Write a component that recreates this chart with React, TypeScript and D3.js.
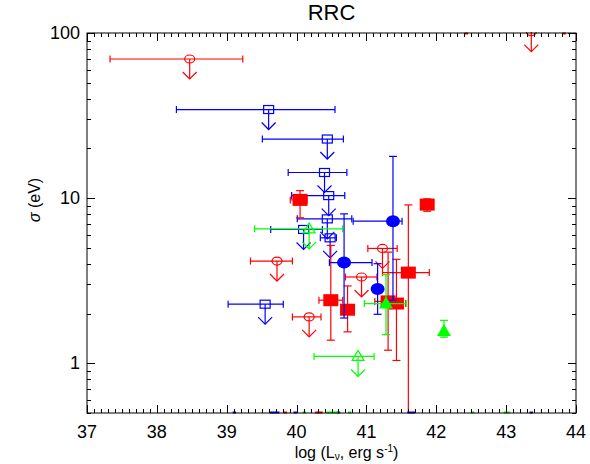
import React from "react";
import * as d3 from "d3";

// ---------- data ----------
// Red upper limits (open circles): [logL, xlo, xhi, sigma]
const redUL: number[][] = [
  [38.47, 37.33, 39.23, 69.6],
  [43.36, 43.36, 43.36, 102],
  [39.72, 39.34, 39.94, 4.16],
  [40.18, 39.94, 40.35, 1.91],
  [40.93, 40.7, 41.15, 3.33],
  [41.23, 41.02, 41.44, 4.96],
];
// Blue upper limits (open squares)
const blueUL: number[][] = [
  [39.6, 38.28, 40.55, 34.4],
  [40.44, 39.51, 40.67, 22.8],
  [40.4, 39.88, 40.72, 14.3],
  [40.46, 39.93, 40.69, 10.36],
  [40.44, 40.01, 40.79, 7.49],
  [40.1, 39.63, 40.37, 6.46],
  [40.48, 40.34, 40.57, 5.75],
  [39.55, 39.02, 39.81, 2.28],
];
// Green upper limits (open triangles)
const greenUL: number[][] = [
  [40.18, 39.4, 40.66, 6.52],
  [40.88, 40.25, 41.11, 1.1],
];
// Red detections (filled squares): [logL, xlo, xhi, sigma, slo, shi]
const redDet: number[][] = [
  [40.05, 39.91, 40.15, 9.76, 7.6, 11.1],
  [40.49, 40.32, 40.66, 2.41, 1.38, 5.17],
  [40.73, 40.73, 40.73, 2.11, 1.55, 2.94],
  [41.31, 41.12, 41.48, 2.37, 1.2, 4.71],
  [41.43, 41.27, 41.56, 2.3, 1.04, 4.26],
  [41.6, 41.23, 41.9, 3.54, 0.3, 9.1],
  [41.87, 41.87, 41.87, 9.14, 8.33, 9.9],
];
// Blue detections (filled circles)
const blueDet: number[][] = [
  [41.38, 40.81, 41.51, 7.25, 2.41, 17.9],
  [40.68, 40.47, 41.08, 4.07, 1.88, 8.03],
  [41.16, 41.12, 41.22, 2.82, 1.98, 4.01],
];
// Green detections (filled triangles)
const greenDet: number[][] = [
  [41.28, 40.97, 41.57, 2.3, 1.49, 3.44],
  [42.11, 42.11, 42.11, 1.57, 1.44, 1.82],
];
// Points lying off the bottom / top of the sigma range: [xlo, xhi]
const blueBelow: number[][] = [[39.1, 39.12], [39.63, 39.74], [39.97, 39.99], [40.59, 40.61], [41.6, 41.68], [43.35, 43.37]];
const redBelow: number[][] = [[39.83, 39.85], [40.28, 40.36]];
const greenBelow: number[][] = [[40.1, 40.12], [40.44, 40.6], [40.75, 40.77], [42.51, 42.53], [42.98, 43.04]];
const redAbove: number[][] = [[42.42, 42.44], [43.82, 43.84]];

const xTicks = [37, 38, 39, 40, 41, 42, 43, 44];
const yTicks = [1, 10, 100];
const yMinor = [0.5, 0.6, 0.7, 0.8, 0.9, 2, 3, 4, 5, 6, 7, 8, 9, 20, 30, 40, 50, 60, 70, 80, 90];

const RED = "#ff0000";
const BLUE = "#0000ff";
const GREEN = "#00ff00";

const W = 590, H = 464;
const L = 87, R = 576, T = 33, B = 413;
const FONT = "'Liberation Sans', Arial, Helvetica, sans-serif";

export default function App() {
  const x = d3.scaleLinear().domain([37, 44]).range([L, R]);
  const y = d3.scaleLog().domain([0.5, 100]).range([B, T]);
  const xMinor = d3.range(370, 441).map((v) => v / 10);
  const sw = 1.2;

  const xErr = (d: number[], c: string, k: string) => {
    if (d[1] === d[2]) return null;
    const yy = y(d[3]);
    return (
      <g key={k} stroke={c} strokeWidth={sw}>
        <line x1={x(d[1])} x2={x(d[2])} y1={yy} y2={yy} />
        <line x1={x(d[1])} x2={x(d[1])} y1={yy - 3.5} y2={yy + 3.5} />
        <line x1={x(d[2])} x2={x(d[2])} y1={yy - 3.5} y2={yy + 3.5} />
      </g>
    );
  };
  const yErr = (d: number[], c: string, k: string) => {
    const xx = x(d[0]);
    return (
      <g key={k} stroke={c} strokeWidth={sw}>
        <line x1={xx} x2={xx} y1={y(d[4])} y2={y(d[5])} />
        <line x1={xx - 4} x2={xx + 4} y1={y(d[4])} y2={y(d[4])} />
        <line x1={xx - 4} x2={xx + 4} y1={y(d[5])} y2={y(d[5])} />
      </g>
    );
  };
  const arrow = (d: number[], c: string, k: string) => {
    const xx = x(d[0]);
    const yy = y(d[3]);
    return (
      <g key={k} stroke={c} strokeWidth={sw} fill="none">
        <line x1={xx} x2={xx} y1={yy} y2={yy + 20} />
        <polyline points={`${xx - 7},${yy + 13} ${xx},${yy + 20} ${xx + 7},${yy + 13}`} />
      </g>
    );
  };

  return (
    <svg width={W} height={H} style={{ position: "absolute", left: 0, top: 0, background: "#fff" }}>
      <defs>
        <clipPath id="plot">
          <rect x={L} y={T - 1} width={R - L} height={B - T + 1} />
        </clipPath>
      </defs>
      <rect x={0} y={0} width={W} height={H} fill="#fff" />
      {/* title */}
      <text x={(L + R) / 2} y={20} textAnchor="middle" fontFamily={FONT} fontSize={22}>RRC</text>

      <g clipPath="url(#plot)">
        {/* upper limits */}
        {redUL.map((d, i) => (
          <g key={"ru" + i}>
            {xErr(d, RED, "e")}
            {arrow(d, RED, "a")}
            <ellipse cx={x(d[0])} cy={y(d[3])} rx={5} ry={4} fill="none" stroke={RED} strokeWidth={sw} />
          </g>
        ))}
        {blueUL.map((d, i) => (
          <g key={"bu" + i}>
            {xErr(d, BLUE, "e")}
            {arrow(d, BLUE, "a")}
            <rect x={x(d[0]) - 5} y={y(d[3]) - 4} width={10} height={8} fill="none" stroke={BLUE} strokeWidth={sw} />
          </g>
        ))}
        {greenUL.map((d, i) => (
          <g key={"gu" + i}>
            {xErr(d, GREEN, "e")}
            {arrow(d, GREEN, "a")}
            <path
              d={`M${x(d[0]) - 6},${y(d[3]) + 4} L${x(d[0])},${y(d[3]) - 6} L${x(d[0]) + 6},${y(d[3]) + 4} Z`}
              fill="none" stroke={GREEN} strokeWidth={sw} />
          </g>
        ))}
        {/* detections */}
        {redDet.map((d, i) => (
          <g key={"rd" + i}>
            {xErr(d, RED, "e")}
            {yErr(d, RED, "y")}
            <rect x={x(d[0]) - 7.5} y={y(d[3]) - 6} width={15} height={12} fill={RED} />
          </g>
        ))}
        {blueDet.map((d, i) => (
          <g key={"bd" + i}>
            {xErr(d, BLUE, "e")}
            {yErr(d, BLUE, "y")}
            <ellipse cx={x(d[0])} cy={y(d[3])} rx={7} ry={6} fill={BLUE} />
          </g>
        ))}
        {greenDet.map((d, i) => (
          <g key={"gd" + i}>
            {xErr(d, GREEN, "e")}
            {yErr(d, GREEN, "y")}
            <path
              d={`M${x(d[0]) - 7},${y(d[3]) + 5} L${x(d[0])},${y(d[3]) - 7} L${x(d[0]) + 7},${y(d[3]) + 5} Z`}
              fill={GREEN} />
          </g>
        ))}
      </g>

      {/* off-range marks on the frame */}
      {blueBelow.map((d, i) => (
        <line key={"bb" + i} x1={x(d[0]) - 1} x2={x(d[1]) + 1} y1={B - 0.5} y2={B - 0.5} stroke={BLUE} strokeWidth={2} />
      ))}
      {redBelow.map((d, i) => (
        <line key={"rb" + i} x1={x(d[0]) - 1} x2={x(d[1]) + 1} y1={B - 0.5} y2={B - 0.5} stroke={RED} strokeWidth={2} />
      ))}
      {greenBelow.map((d, i) => (
        <line key={"gb" + i} x1={x(d[0]) - 1} x2={x(d[1]) + 1} y1={B - 0.5} y2={B - 0.5} stroke={GREEN} strokeWidth={2} />
      ))}
      {redAbove.map((d, i) => (
        <line key={"ra" + i} x1={x(d[0]) - 1} x2={x(d[1]) + 1} y1={T + 0.5} y2={T + 0.5} stroke={RED} strokeWidth={2} />
      ))}

      {/* frame */}
      <rect x={L} y={T} width={R - L} height={B - T} fill="none" stroke="#000" strokeWidth={1} />
      <g stroke="#000" strokeWidth={1}>
        {xMinor.map((v, i) => {
          const len = Math.abs(v - Math.round(v)) < 1e-6 ? 8 : 4;
          const xx = Math.round(x(v)) + 0.5;
          return (
            <g key={"xm" + i}>
              <line x1={xx} x2={xx} y1={B} y2={B - len} />
              <line x1={xx} x2={xx} y1={T} y2={T + len} />
            </g>
          );
        })}
        {yTicks.map((v, i) => {
          const yy = Math.round(y(v)) + 0.5;
          return (
            <g key={"yt" + i}>
              <line x1={L} x2={L + 8} y1={yy} y2={yy} />
              <line x1={R} x2={R - 8} y1={yy} y2={yy} />
            </g>
          );
        })}
        {yMinor.map((v, i) => {
          const yy = Math.round(y(v)) + 0.5;
          return (
            <g key={"ym" + i}>
              <line x1={L} x2={L + 4} y1={yy} y2={yy} />
              <line x1={R} x2={R - 4} y1={yy} y2={yy} />
            </g>
          );
        })}
      </g>

      {/* tick labels */}
      {xTicks.map((v) => (
        <text key={"xl" + v} x={x(v)} y={438} textAnchor="middle" fontFamily={FONT} fontSize={18}>{v}</text>
      ))}
      {yTicks.map((v) => (
        <text key={"yl" + v} x={L - 7} y={y(v) + 6} textAnchor="end" fontFamily={FONT} fontSize={18}>{v}</text>
      ))}

      {/* axis titles */}
      <text x={(L + R) / 2 + 15} y={458} textAnchor="middle" fontFamily={FONT} fontSize={16}>
        log (L<tspan dy={2} fontSize={10}>ν</tspan><tspan dy={-2}>, erg s</tspan><tspan dy={-6} fontSize={10}>-1</tspan><tspan dy={6}>)</tspan>
      </text>
      <text transform={`translate(40, 200) rotate(-90)`} textAnchor="middle" fontFamily={FONT} fontSize={16}>
        <tspan fontStyle="italic">σ</tspan> (eV)
      </text>
    </svg>
  );
}
